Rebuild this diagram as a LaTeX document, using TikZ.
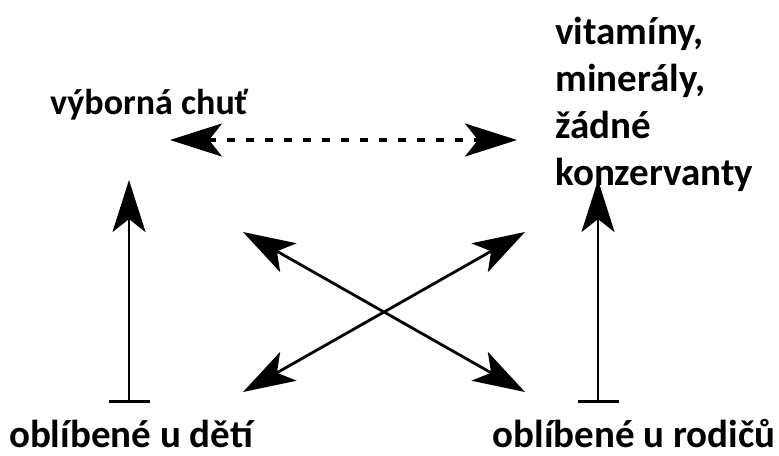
\documentclass[tikz,border=0pt]{standalone}
\usepackage{fontspec}
\setmainfont{Carlito}
\usetikzlibrary{arrows.meta}
\tikzset{
  word/.style={font=\bfseries\fontsize{19.5}{23.5}\selectfont,inner sep=0pt},
  both/.style={{Stealth[length=26pt,width=16.5pt,inset=6.5pt]}-{Stealth[length=26pt,width=16.5pt,inset=6.5pt]}},
  rise/.style={{Bar[width=20.5pt]}-{Stealth[length=26pt,width=16.5pt,inset=6.5pt]}},
  link/.style={line width=1.4pt}
}

\begin{document}
\begin{tikzpicture}[x=0.5pt,y=-0.5pt]
\useasboundingbox (0,0) rectangle (779,455);
% texts
\node[word,font=\bfseries\fontsize{18}{23.5}\selectfont,anchor=base] (taste) at (149,114) {výborná chuť};
\node[word,anchor=base west,align=left] (health) at (555,185) {vitamíny,\\minerály,\\žádné\\konzervanty};
\node[word,anchor=base] (kids) at (131,447) {oblíbené u dětí};
\node[word,anchor=base] (parents) at (634,447) {oblíbené u rodičů};
% arrow ends
\coordinate (tl) at (170,140);
\coordinate (tr) at (517,140);
\coordinate (kb) at (129,403);
\coordinate (kt) at (129,180);
\coordinate (pb) at (598,403);
\coordinate (pt) at (598,180);
\coordinate (ul) at (243,232);
\coordinate (ur) at (525,232);
\coordinate (ll) at (243,392);
\coordinate (lr) at (525,392);
% connections
\draw[link,both,line width=1.6pt,dash pattern=on 4pt off 5.5pt] (tl) -- (tr);
\draw[link,rise] (kb) -- (kt);
\draw[link,rise] (pb) -- (pt);
\draw[link,both] (ul) -- (lr);
\draw[link,both] (ll) -- (ur);
\end{tikzpicture}
\end{document}
